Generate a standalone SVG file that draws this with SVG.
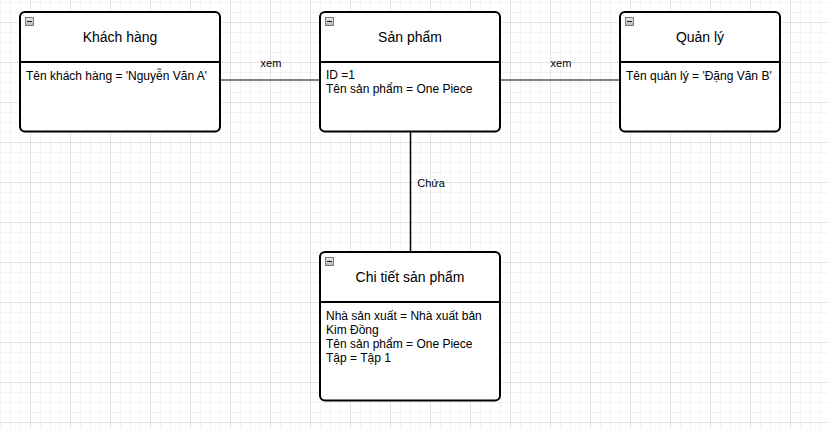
<svg xmlns="http://www.w3.org/2000/svg" width="828" height="429" viewBox="0 0 828 429">
<style>
.box{fill:#ffffff;stroke:#000000;stroke-width:2}
.div{stroke:#000000;stroke-width:2}
.title{font-family:"Liberation Sans",Arial,sans-serif;font-size:14px;fill:#000000;text-anchor:middle}
.attr{font-family:"Liberation Sans",Arial,sans-serif;font-size:12px;fill:#000000}
.lbl{font-family:"Liberation Sans",Arial,sans-serif;font-size:11px;fill:#000000;text-anchor:middle}
.edge{fill:none;stroke:#808080;stroke-width:2}
.edgeV{fill:none;stroke:#000000;stroke-width:1.5}
.ic{fill:url(#icg);stroke:#7a7a7a;stroke-width:1}
.icm{stroke:#202020;stroke-width:1}
</style>
<defs>
<pattern id="gMinor" patternUnits="userSpaceOnUse" x="0" y="2" width="10" height="10">
<path d="M0 0.5H10M0.5 0V10" stroke="#f2f2f2" stroke-width="1" fill="none"/>
</pattern>
<pattern id="gMajor" patternUnits="userSpaceOnUse" x="30" y="22" width="40" height="40">
<path d="M0 0.5H40M0.5 0V40" stroke="#e3e3e3" stroke-width="1" fill="none"/>
</pattern>
<linearGradient id="icg" x1="0" y1="0" x2="0" y2="1">
<stop offset="0" stop-color="#e8e8e8"/>
<stop offset="1" stop-color="#b8b8b8"/>
</linearGradient>
<g id="minus">
<rect class="ic" x="0.5" y="0.5" width="8" height="8"/>
<path class="icm" d="M2 4.5H7"/>
</g>
</defs>
<rect width="828" height="429" fill="#ffffff"/>
<rect width="828" height="429" fill="url(#gMinor)"/>
<rect width="828" height="429" fill="url(#gMajor)"/>

<g id="connectors">
<path class="edge" d="M220 80H320"/>
<path class="edge" d="M500 80H620"/>
<path class="edgeV" d="M410.5 132V252"/>
<text class="lbl" x="271" y="67">xem</text>
<text class="lbl" x="561" y="67">xem</text>
<text class="lbl" x="431" y="187">Chứa</text>
</g>

<g id="khach-hang">
<rect class="box" x="20" y="12" width="200" height="119.5" rx="5"/>
<path class="div" d="M20 62H220"/>
<use href="#minus" x="25" y="17"/>
<text class="title" x="120" y="42">Khách hàng</text>
<text class="attr" x="26" y="80">Tên khách hàng = 'Nguyễn Văn A'</text>
</g>

<g id="san-pham">
<rect class="box" x="320" y="12" width="180" height="119.5" rx="5"/>
<path class="div" d="M320 62H500"/>
<use href="#minus" x="325" y="17"/>
<text class="title" x="410" y="42">Sản phẩm</text>
<text class="attr" x="326" y="79">ID =1</text>
<text class="attr" x="326" y="93">Tên sản phẩm = One Piece</text>
</g>

<g id="quan-ly">
<rect class="box" x="620" y="12" width="160" height="119.5" rx="5"/>
<path class="div" d="M620 62H780"/>
<use href="#minus" x="625" y="17"/>
<text class="title" x="700" y="42">Quản lý</text>
<text class="attr" x="626" y="80">Tên quản lý = 'Đặng Văn B'</text>
</g>

<g id="chi-tiet-san-pham">
<rect class="box" x="320" y="252" width="180" height="148.5" rx="5"/>
<path class="div" d="M320 302H500"/>
<use href="#minus" x="325" y="257"/>
<text class="title" x="410" y="282">Chi tiết sản phẩm</text>
<text class="attr" x="326" y="320">Nhà sản xuất = Nhà xuất bản</text>
<text class="attr" x="326" y="334">Kim Đồng</text>
<text class="attr" x="326" y="348">Tên sản phẩm = One Piece</text>
<text class="attr" x="326" y="362">Tập = Tập 1</text>
</g>
</svg>
